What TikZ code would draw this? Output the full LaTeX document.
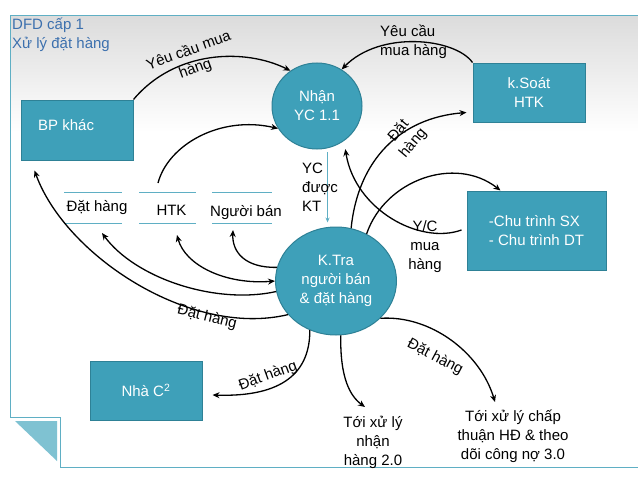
\documentclass[tikz,border=0pt]{standalone}
\usepackage{fontspec}
\setmainfont{Liberation Sans}
\usetikzlibrary{arrows.meta,calc,shapes.geometric}
\definecolor{tealfill}{HTML}{3EA0B9}
\definecolor{tealdark}{HTML}{2E8196}
\definecolor{framec}{HTML}{5FAFC4}
\definecolor{titleblue}{HTML}{3C70AE}
\definecolor{foldc}{HTML}{7FC2D2}
\begin{document}
\begin{tikzpicture}[x=1pt,y=-1pt,
  font=\fontsize{15}{19}\selectfont,
  box/.style={draw=tealdark, line width=1pt, fill=tealfill, text=white, inner sep=0pt},
  proc/.style={ellipse, draw=tealdark, line width=1pt, fill=tealfill, text=white, align=center, inner sep=0pt},
  flow/.style={line width=1.3pt, -{Stealth[length=7pt,width=6pt]}},
  flowtwo/.style={line width=1.3pt, {Stealth[length=7pt,width=6pt]}-{Stealth[length=7pt,width=6pt]}},
  ycarrow/.style={draw=framec, line width=0.8pt, -{Stealth[length=5pt,width=4pt]}},
  lbl/.style={align=center, inner sep=1pt},
  storetext/.style={inner sep=0pt, anchor=base},
  storeline/.style={draw=framec, line width=1pt}]

\useasboundingbox (0,0) rectangle (638,479);
\fill[white] (0,0) rectangle (638,479);
\shade[top color=gray!28, bottom color=white] (10,15) rectangle (638,132);

% frame
\draw[framec, line width=1pt] (638,15) -- (10,15) -- (10,417) -- (60,417) -- (60,467) -- (638,467);
\fill[foldc] (15,421) -- (57,421) -- (57,461) -- cycle;

% title
\node[anchor=west, text=titleblue, align=left, inner sep=0pt] (title) at (12,35) {DFD cấp 1\\Xử lý đặt hàng};

% external entities
\node[box, minimum width=112pt, minimum height=60pt] (bp) at (77,130) {};
\node[text=white, anchor=west, inner sep=0pt] (bpt) at (38,125) {BP khác};
\node[box, minimum width=112pt, minimum height=59pt, align=center] (ks) at (529,92.5) {k.Soát\\HTK};
\node[box, minimum width=139pt, minimum height=79pt, align=left] (ct) at (536.5,230.5) {-Chu trình SX\\- Chu trình DT};
\node[box, minimum width=112pt, minimum height=59pt] (nc) at (146,390.5) {Nhà C\textsuperscript{2}};

% processes
\node[proc, minimum width=90pt, minimum height=86pt] (nh) at (317,106) {Nhận\\YC 1.1};
\node[proc, minimum width=121pt, minimum height=108pt] (kt) at (336,281) {K.Tra\\người bán\\\& đặt hàng};

% data stores
\node[storetext] (s1) at (97,211) {Đặt hàng};
\node[storetext] (s2) at (171.5,215) {HTK};
\node[storetext] (s3) at (246,216) {Người bán};
\draw[storeline] ($(s1.base)+(-33,-19)$) -- ++(58,0) ($(s1.base)+(-33,12)$) -- ++(58,0);
\draw[storeline] ($(s2.base)+(-32.5,-23)$) -- ++(57,0) ($(s2.base)+(-32.5,8)$) -- ++(57,0);
\draw[storeline] ($(s3.base)+(-34,-24)$) -- ++(60,0) ($(s3.base)+(-34,7)$) -- ++(60,0);

% flows
\draw[flow] (bp.north east) .. controls (175,50) and (245,48) .. (nh.127);
\draw[flow] (ks.north west) .. controls (455,38) and (380,30) .. (nh.56);
\draw[flow] ($(s2.base)+(-13.5,-32)$) .. controls (168,145) and (220,115) .. (nh.210);
\draw[flow] (kt.74) .. controls (358,160) and (400,118) .. ($(ks.west)+(-6,20)$);
\draw[flow] ($(ct.west)+(-5,-0.5)$) .. controls (420,245) and (355,210) .. ($(nh.-55)+(3,7)$);
\draw[flow] (kt.57) .. controls (385,180) and (455,155) .. (ct.132);
\draw[flow] (kt.167) .. controls (245,268) and (232,252) .. ($(s3.base)+(-13,14)$);
\draw[flowtwo] ($(s2.base)+(5.5,20)$) .. controls (185,265) and (225,285) .. (kt.180);
\draw[flow] (kt.190) .. controls (215,305) and (135,278) .. ($(s1.base)+(5,22)$);
\draw[flow] (kt.215) .. controls (190,338) and (65,255) .. ($(bp.south west)+(14,10)$);
\draw[flow] (kt.242) .. controls (310,378) and (275,397) .. ($(nc.east)+(10,4.5)$);
\draw[ycarrow, shorten <=4pt, shorten >=4pt] (nh.-76) -- (nh.-76 |- kt.north);

% targets
\node[lbl] (t2) at (373,442) {Tới xử lý\\nhận\\hàng 2.0};
\node[lbl] (t3) at (513,436) {Tới xử lý chấp\\thuận HĐ \& theo\\dõi công nợ 3.0};
\draw[flow] (kt.-85) .. controls (340,378) and (350,396) .. ($(t2.center)+(-8,-35)$);
\draw[flow] (kt.-40) .. controls (430,315) and (480,352) .. ($(t3.center)+(-18,-34)$);

% labels
\node[lbl, rotate=20] (l1) at (192,60) {Yêu cầu mua\\hàng};
\node[lbl, align=left, anchor=west] (l2) at (379,42) {Yêu cầu\\mua hàng};
\node[lbl, rotate=50] (l3) at (406,137) {Đặt\\hàng};
\node[lbl] (l4) at (425,247) {Y/C\\mua\\hàng};
\node[lbl, align=left, anchor=west] (l5) at (301,187) {YC\\được\\KT};
\node[lbl, rotate=-14] (l6) at (207,317) {Đặt hàng};
\node[lbl, rotate=20] (l7) at (268,376) {Đặt hàng};
\node[lbl, rotate=-28] (l8) at (435,357) {Đặt hàng};
\end{tikzpicture}
\end{document}
